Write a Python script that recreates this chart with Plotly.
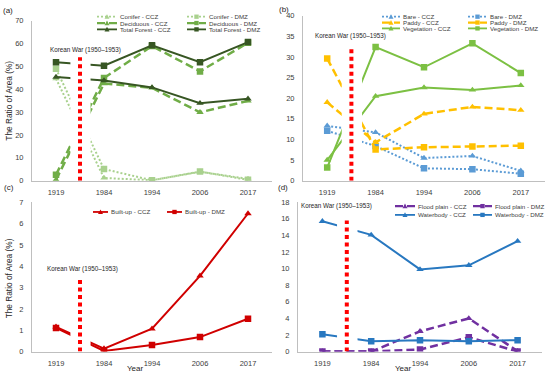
import plotly.graph_objects as go

W, H = 550, 381
FONT = "Liberation Sans, Arial, sans-serif"

years = ["1919", "1984", "1994", "2006", "2017"]

# (a) forest
conifer_ccz = [44.6, 1.2, 0.2, 3.9, 0.8]
conifer_dmz = [48.9, 5.1, 0.2, 4.0, 0.4]
deciduous_ccz = [0.4, 42.5, 40.6, 29.9, 34.9]
deciduous_dmz = [2.6, 44.9, 58.9, 47.8, 60.3]
forest_ccz = [45.3, 43.8, 40.8, 33.9, 35.8]
forest_dmz = [51.8, 50.3, 59.2, 51.8, 60.6]

# (b) bare / paddy / vegetation
bare_ccz = [13.3, 11.7, 5.5, 6.0, 2.4]
bare_dmz = [12.1, 8.4, 3.0, 2.8, 1.7]
paddy_ccz = [19.0, 9.3, 16.2, 17.9, 17.1]
paddy_dmz = [29.6, 7.6, 8.1, 8.3, 8.5]
veg_ccz = [5.0, 20.5, 22.6, 22.0, 23.1]
veg_dmz = [3.2, 32.4, 27.5, 33.3, 26.1]

# (c) built-up
builtup_ccz = [1.16, 0.14, 1.07, 3.55, 6.47]
builtup_dmz = [1.11, 0.03, 0.31, 0.68, 1.54]

# (d) flood plain / waterbody
flood_ccz = [0.0, 0.0, 2.44, 4.0, 0.05]
flood_dmz = [0.0, 0.0, 0.25, 1.73, 0.0]
water_ccz = [15.7, 14.06, 9.9, 10.4, 13.3]
water_dmz = [2.1, 1.26, 1.38, 1.26, 1.38]

# colours
C_CON = "#a9d18e"
C_DEC = "#70ad47"
C_TOT = "#375623"
C_BARE = "#5b9bd5"
C_PADDY = "#ffc000"
C_VEG = "#7cc043"
C_BUILT = "#d00000"
C_FLOOD = "#7030a0"
C_WATER = "#2878c0"

DOT = "2px,2px"
DASH = "8px,4px"


def px(x):
    return x / W


def py(y):
    return 1 - y / H


fig = go.Figure()

panels = [
    # name, xaxis, yaxis, x-domain px, y-domain px (top, bottom), yrange, dtick, war top
    ("a", "x", "y", (32, 272), (17, 181), 70, 10, 54),
    ("b", "x2", "y2", (303, 545), (12, 181), 40, 5, 32),
    ("c", "x3", "y3", (32, 272), (203, 356), 7, 1, 3.5),
    ("d", "x4", "y4", (298, 542), (203, 356), 18, 2, 15.8),
]

series = {
    "a": [
        ("Conifer - CCZ", conifer_ccz, C_CON, DOT, 2, "triangle-up"),
        ("Conifer - DMZ", conifer_dmz, C_CON, DOT, 2, "square"),
        ("Deciduous - CCZ", deciduous_ccz, C_DEC, DASH, 2.5, "triangle-up"),
        ("Deciduous - DMZ", deciduous_dmz, C_DEC, DASH, 2.5, "square"),
        ("Total Forest - CCZ", forest_ccz, C_TOT, "solid", 2, "triangle-up"),
        ("Total Forest - DMZ", forest_dmz, C_TOT, "solid", 2, "square"),
    ],
    "b": [
        ("Bare - CCZ", bare_ccz, C_BARE, DOT, 2, "triangle-up"),
        ("Bare - DMZ", bare_dmz, C_BARE, DOT, 2, "square"),
        ("Paddy - CCZ", paddy_ccz, C_PADDY, DASH, 2.5, "triangle-up"),
        ("Paddy - DMZ", paddy_dmz, C_PADDY, DASH, 2.5, "square"),
        ("Vegetation - CCZ", veg_ccz, C_VEG, "solid", 2, "triangle-up"),
        ("Vegetation - DMZ", veg_dmz, C_VEG, "solid", 2, "square"),
    ],
    "c": [
        ("Built-up - CCZ", builtup_ccz, C_BUILT, "solid", 2, "triangle-up"),
        ("Built-up - DMZ", builtup_dmz, C_BUILT, "solid", 2, "square"),
    ],
    "d": [
        ("Flood plain - CCZ", flood_ccz, C_FLOOD, DASH, 2.5, "triangle-up"),
        ("Flood plain - DMZ", flood_dmz, C_FLOOD, DASH, 2.5, "square"),
        ("Waterbody - CCZ", water_ccz, C_WATER, "solid", 2, "triangle-up"),
        ("Waterbody - DMZ", water_dmz, C_WATER, "solid", 2, "square"),
    ],
}

shapes = []
annotations = []
layout_axes = {}

for name, xa, ya, (xl, xr), (yt, yb), ymax, dt, wartop in panels:
    for label, vals, col, dash, lw, sym in series[name]:
        fig.add_trace(go.Scatter(
            x=years, y=vals, mode="lines+markers", name=label,
            xaxis=xa, yaxis=ya, showlegend=False,
            line=dict(color=col, width=lw, dash=dash),
            marker=dict(symbol=sym, size=6.5, color=col, line=dict(width=0)),
        ))
    xkey = "xaxis" + xa[1:]
    ykey = "yaxis" + ya[1:]
    layout_axes[xkey] = dict(
        domain=[px(xl), px(xr)], anchor=ya, type="category",
        categoryorder="array", categoryarray=years, range=[-0.5, 4.5],
        showline=True, linecolor="#bfbfbf", linewidth=1, ticks="",
        showgrid=False, zeroline=False, ticklabelstandoff=4,
        tickfont=dict(family=FONT, size=7.5, color="#404040"),
    )
    layout_axes[ykey] = dict(
        domain=[py(yb), py(yt)], anchor=xa, range=[0, ymax], dtick=dt,
        showline=True, linecolor="#bfbfbf", linewidth=1, ticks="",
        showgrid=False, zeroline=False, ticklabelstandoff=6,
        tickfont=dict(family=FONT, size=7.5, color="#404040"),
    )
    # gap around the war period
    shapes.append(dict(type="rect", xref=xa, x0=0.3, x1=0.72,
                       yref=ya + " domain", y0=0.02, y1=1,
                       fillcolor="white", line=dict(width=0), layer="above"))
    # war marker line
    shapes.append(dict(type="line", xref=xa, x0=0.5, x1=0.5,
                       yref=ya, y0=0, y1=wartop, layer="above",
                       line=dict(color="#ff0000", width=4, dash="4px,3.5px")))


def legend_entry(x0, x1, y, col, dash, lw, sym, text):
    shapes.append(dict(type="line", xref="paper", yref="paper",
                       x0=px(x0), x1=px(x1), y0=py(y), y1=py(y),
                       line=dict(color=col, width=lw * 0.9, dash=dash)))
    cx = (x0 + x1) / 2
    s = 2.2
    if sym == "square":
        shapes.append(dict(type="rect", xref="paper", yref="paper",
                           x0=px(cx - s), x1=px(cx + s), y0=py(y + s), y1=py(y - s),
                           fillcolor=col, line=dict(width=0)))
    else:
        path = "M {},{} L {},{} L {},{} Z".format(
            px(cx - s - 0.3), py(y + s), px(cx + s + 0.3), py(y + s), px(cx), py(y - s - 0.4))
        shapes.append(dict(type="path", xref="paper", yref="paper", path=path,
                           fillcolor=col, line=dict(width=0)))
    annotations.append(dict(xref="paper", yref="paper", x=px(x1 + 0.5), y=py(y),
                            xanchor="left", yanchor="middle", showarrow=False,
                            text=text, font=dict(family=FONT, size=6.2, color="#404040")))


# legends
la = series["a"]
for i, row_y in enumerate([13, 19.5, 26]):
    lab, _, col, dash, lw, sym = la[2 * i]
    legend_entry(97, 117, row_y, col, dash, lw, sym, lab)
    lab, _, col, dash, lw, sym = la[2 * i + 1]
    legend_entry(187, 206, row_y, col, dash, lw, sym, lab)

lb = series["b"]
for i, row_y in enumerate([13, 19, 25]):
    lab, _, col, dash, lw, sym = lb[2 * i]
    legend_entry(382, 400, row_y, col, dash, lw, sym, lab)
    lab, _, col, dash, lw, sym = lb[2 * i + 1]
    legend_entry(468, 487, row_y, col, dash, lw, sym, lab)

lc = series["c"]
lab, _, col, dash, lw, sym = lc[0]
legend_entry(93, 108, 213, col, dash, lw, sym, lab)
lab, _, col, dash, lw, sym = lc[1]
legend_entry(167, 182, 213, col, dash, lw, sym, lab)

ld = series["d"]
for i, row_y in enumerate([207, 216]):
    lab, _, col, dash, lw, sym = ld[2 * i]
    legend_entry(395, 415, row_y, col, dash, lw, sym, lab)
    lab, _, col, dash, lw, sym = ld[2 * i + 1]
    legend_entry(473, 492, row_y, col, dash, lw, sym, lab)


def text(x, y, t, size, anchor="center", angle=0, color="#262626"):
    annotations.append(dict(xref="paper", yref="paper", x=px(x), y=py(y),
                            xanchor=anchor, yanchor="middle", showarrow=False,
                            text=t, textangle=angle,
                            font=dict(family=FONT, size=size, color=color)))


war = "Korean War (1950\u20131953)"
text(85, 47, war, 6.3)
text(350, 33, war, 6.3)
text(82, 271, war, 6.3)
text(299, 207, war, 6.3, anchor="left")

text(1, 7, "(a)", 8, anchor="left")
text(277, 6, "(b)", 8, anchor="left")
text(2, 188, "(c)", 8, anchor="left")
text(276, 188, "(d)", 8, anchor="left")

text(9, 99, "The Ratio of Area (%)", 8.3, angle=-90)
text(9, 281, "The Ratio of Area (%)", 8.3, angle=-90)
text(135, 373, "Year", 8)
text(403, 373, "Year", 8)

fig.update_layout(
    width=W, height=H, margin=dict(l=0, r=0, t=0, b=0),
    paper_bgcolor="white", plot_bgcolor="white",
    showlegend=False, shapes=shapes, annotations=annotations,
    **layout_axes,
)

fig.write_html("out.html", config={"displayModeBar": False},
               post_script="document.body.style.margin='0px';document.body.style.padding='0px';")
